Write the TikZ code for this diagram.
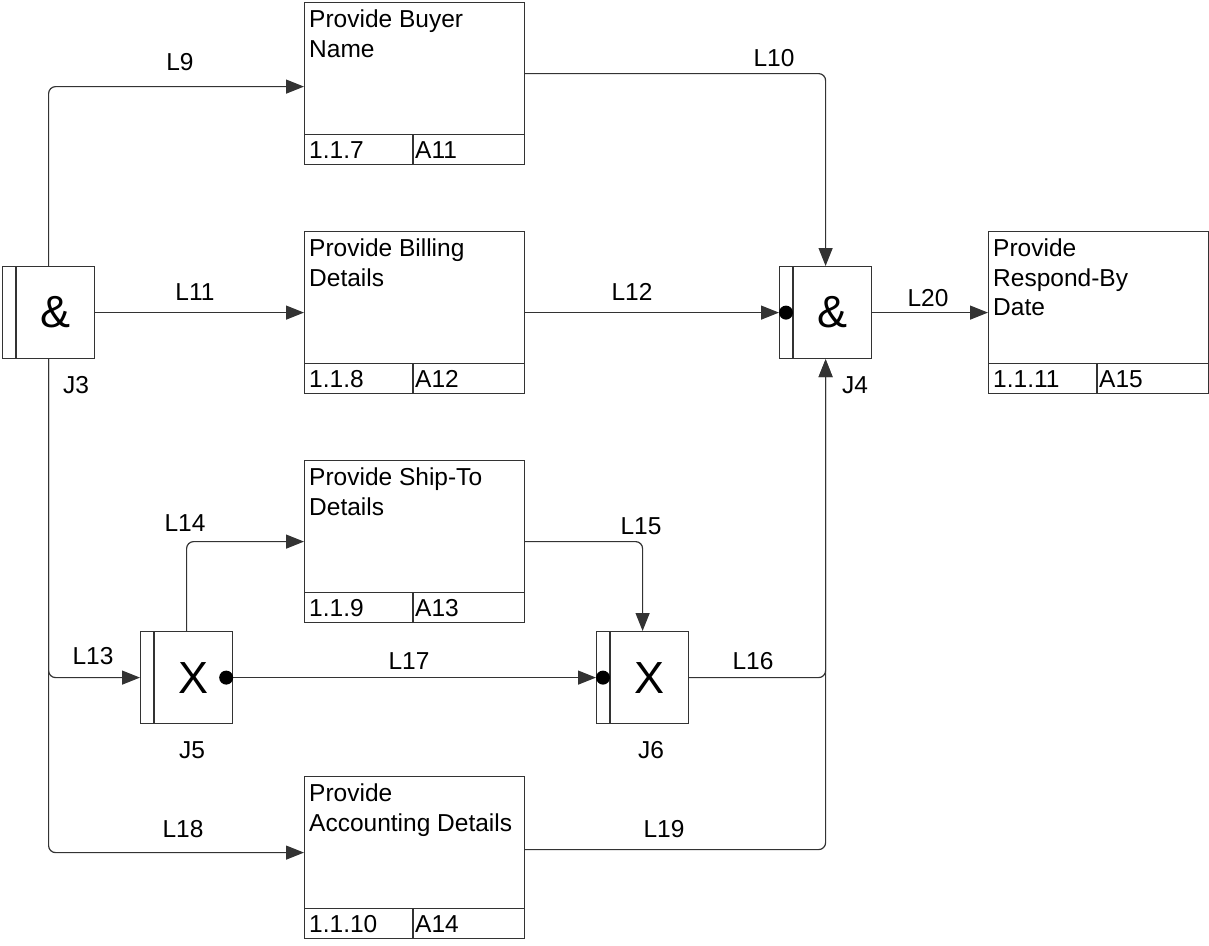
\documentclass[tikz,border=0pt]{standalone}
\usepackage{fontspec}
\setmainfont{Liberation Sans}
\usetikzlibrary{arrows.meta}
\newcommand{\actbox}[6]{%
  \node[frame] (#1) at (#2,#3) {};
  \draw[boxline] ([yshift=31pt]#1.south west) -- ([yshift=31pt]#1.south east);
  \draw[boxline] ([xshift=109pt]#1.south west) -- ([xshift=109pt,yshift=31pt]#1.south west);
  \node[anchor=north west, align=left, inner sep=0pt] (#1t) at ([xshift=5pt,yshift=-8pt]#1.north west) {#4};
  \node[anchor=base west, inner sep=0pt] (#1n) at ([xshift=5pt,yshift=7pt]#1.south west) {#5};
  \node[anchor=base west, inner sep=0pt] (#1c) at ([xshift=111pt,yshift=7pt]#1.south west) {#6};
}
\newcommand{\junc}[4]{% name, x, y, symbol
  \node[jbox] (#1) at (#2,#3) {};
  \draw[boxline] ([xshift=14pt]#1.north west) -- ([xshift=14pt]#1.south west);
  \node[symb] (#1s) at ([xshift=7pt]#1.center) {#4};
}
\begin{document}
\begin{tikzpicture}[x=1pt,y=-1pt,
  every node/.style={font=\fontsize{24.5}{29.5}\selectfont},
  boxline/.style={draw=black!80, line width=1.2pt},
  frame/.style={boxline, fill=white, minimum width=220pt, minimum height=162pt, inner sep=0pt, anchor=north west},
  jbox/.style={boxline, fill=white, minimum width=92pt, minimum height=92pt, inner sep=0pt, anchor=north west},
  symb/.style={inner sep=0pt, font=\fontsize{45}{45}\selectfont},
  conn/.style={draw=black!80, line width=1.2pt, rounded corners=7pt},
  arr/.style={conn, -{Triangle[length=18pt,width=14pt]}},
  lbl/.style={inner sep=0pt},
  dotc/.style={circle, fill=black, inner sep=0pt, minimum size=14pt}
]
\useasboundingbox (0,0) rectangle (1209,945);

% activities
\actbox{a11}{304}{2}{Provide Buyer\\Name}{1.1.7}{A11}
\actbox{a12}{304}{231}{Provide Billing\\Details}{1.1.8}{A12}
\actbox{a13}{304}{460}{Provide Ship-To\\Details}{1.1.9}{A13}
\actbox{a14}{304}{776}{Provide\\Accounting Details}{1.1.10}{A14}
\actbox{a15}{988}{231}{Provide\\Respond-By\\Date}{1.1.11}{A15}

% junctions
\junc{j3}{2}{266}{\&}
\junc{j4}{779}{266}{\&}
\junc{j5}{140}{631}{X}
\junc{j6}{596}{631}{X}

\node[lbl] (j3l) at (76,385) {J3};
\node[lbl] (j4l) at (855,385) {J4};
\node[lbl] (j5l) at (192,750) {J5};
\node[lbl] (j6l) at (651,750) {J6};

% connectors
\draw[arr] (j3.north) |- ([yshift=-3pt]a11.west);
\draw[arr] ([yshift=10pt]a11.east) -| (j4.north);
\draw[arr] (j3.east) -- (a12.west);
\draw[arr] (a12.east) -- (j4.west);
\draw[arr] (j4.east) -- (a15.west);
\draw[arr] (j3.south) |- (j5.west);
\draw[arr] (j5.north) |- (a13.west);
\draw[arr] (a13.east) -| (j6.north);
\draw[arr] (j5.east) -- (j6.west);
\draw[arr] (j6.east) -| (j4.south);
\draw[arr] (j3.south) |- ([yshift=5pt]a14.west);
\draw[arr] ([yshift=8pt]a14.east) -| (j4.south);

% dots
\node[dotc] (d4) at ([xshift=7pt]j4.west) {};
\node[dotc] (d5) at ([xshift=-7pt]j5.east) {};
\node[dotc] (d6) at ([xshift=7pt]j6.west) {};

% labels
\node[lbl] (l9) at (180,62) {L9};
\node[lbl] (l10) at (774,58) {L10};
\node[lbl] (l11) at (195,292) {L11};
\node[lbl] (l12) at (632,292) {L12};
\node[lbl] (l20) at (928,298) {L20};
\node[lbl] (l13) at (93,656) {L13};
\node[lbl] (l14) at (185,523) {L14};
\node[lbl] (l15) at (641,526) {L15};
\node[lbl] (l17) at (409,661) {L17};
\node[lbl] (l16) at (753,661) {L16};
\node[lbl] (l18) at (183,829) {L18};
\node[lbl] (l19) at (664,829) {L19};
\end{tikzpicture}
\end{document}
